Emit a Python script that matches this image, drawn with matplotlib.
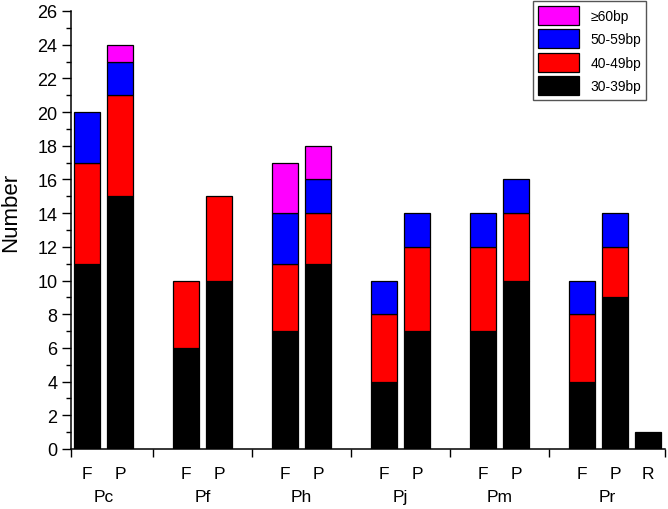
import matplotlib
matplotlib.use("Agg")
import matplotlib.pyplot as plt
from matplotlib.patches import Patch
import matplotlib.transforms as mtransforms

plt.rcParams['font.family'] = ['Liberation Sans', 'DejaVu Sans']

groups = ['Pc', 'Pf', 'Ph', 'Pj', 'Pm', 'Pr']
bar_labels = ['F', 'P', 'F', 'P', 'F', 'P', 'F', 'P', 'F', 'P', 'F', 'P', 'R']
bar_group = [0, 0, 1, 1, 2, 2, 3, 3, 4, 4, 5, 5, 5]
bar_slot = [0, 1, 0, 1, 0, 1, 0, 1, 0, 1, 0, 1, 2]

v30 = [11, 15, 6, 10, 7, 11, 4, 7, 7, 10, 4, 9, 1]
v40 = [6, 6, 4, 5, 4, 3, 4, 5, 5, 4, 4, 3, 0]
v50 = [3, 2, 0, 0, 3, 2, 2, 2, 2, 2, 2, 2, 0]
v60 = [0, 1, 0, 0, 3, 2, 0, 0, 0, 0, 0, 0, 0]

series = [('30-39bp', v30, '#000000'), ('40-49bp', v40, '#ff0000'),
          ('50-59bp', v50, '#0000ff'), ('\u226560bp', v60, '#ff00ff')]

fig = plt.figure(figsize=(6.68, 5.10), dpi=100)
ax = fig.add_axes([70.5 / 668, 1 - 450 / 510, 594 / 668, 438 / 510])

x = [g * 3 + s for g, s in zip(bar_group, bar_slot)]
bottom = [0] * len(x)
for name, vals, col in series:
    xs = [xi for xi, v in zip(x, vals) if v > 0]
    vs = [v for v in vals if v > 0]
    bs = [b for b, v in zip(bottom, vals) if v > 0]
    ax.bar(xs, vs, bottom=bs, width=0.8, color=col, edgecolor='black', linewidth=0.9)
    bottom = [b + v for b, v in zip(bottom, vals)]

ax.set_xlim(-0.5, 17.5)
ax.set_ylim(0, 26)
ax.set_yticks(range(0, 27, 2))
ax.set_yticks(range(0, 27, 1), minor=True)
ax.tick_params(axis='y', which='major', direction='out', length=6.5, width=1, labelsize=13, pad=3)
ax.tick_params(axis='y', which='minor', direction='out', length=3.5, width=1)

ax.set_xticks([-0.5, 2, 5, 8, 11, 14, 17.5])
ax.set_xticklabels([])
ax.tick_params(axis='x', which='major', direction='out', length=6, width=1)

for side in ['top', 'right']:
    ax.spines[side].set_visible(False)
for side in ['left', 'bottom']:
    ax.spines[side].set_linewidth(1.1)

trans = mtransforms.blended_transform_factory(ax.transData, ax.transAxes)
for xi, lab in zip(x, bar_labels):
    ax.text(xi, -0.066, lab, transform=trans, ha='center', va='baseline', fontsize=12.5)
group_x = [0.5, 3.5, 6.5, 9.5, 12.5, 15.75]
for gx, g in zip(group_x, groups):
    ax.text(gx, -0.119, g, transform=trans, ha='center', va='baseline', fontsize=12.5)

fig.text(10.5 / 668, 1 - 212 / 510, 'Number', rotation=90, ha='center', va='center', fontsize=16)

handles = [Patch(facecolor=col, edgecolor='black', linewidth=0.9) for _, _, col in series][::-1]
labels = [name for name, _, _ in series][::-1]
leg = fig.legend(handles, labels, loc='upper right', bbox_to_anchor=(646 / 668, 1 - 2 / 510),
                 fontsize=10, handlelength=3.0, handleheight=1.75, labelspacing=0.3,
                 borderpad=0.35, handletextpad=0.8, borderaxespad=0, fancybox=False,
                 framealpha=1, edgecolor='#555555')
leg.get_frame().set_linewidth(1.0)

fig.savefig('out.png', dpi=100)
